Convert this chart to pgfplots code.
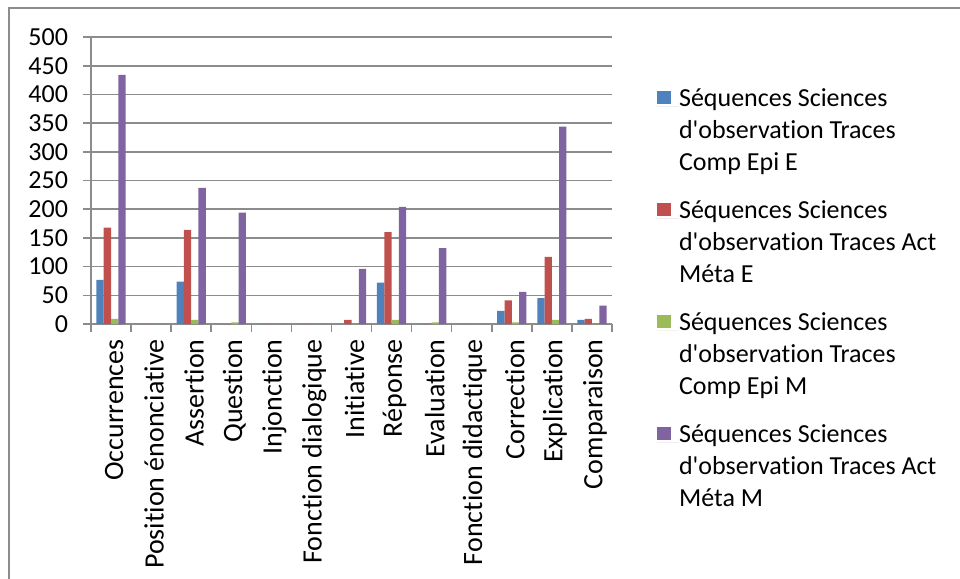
\documentclass[border=0pt]{standalone}
\usepackage{pgfplots}
\pgfplotsset{compat=1.18}
\usepackage{pgfplotstable}
\usepackage{fontspec}
\setmainfont{Carlito}[Ligatures=NoCommon]
\definecolor{cA}{HTML}{4F81BD}
\definecolor{cB}{HTML}{C0504D}
\definecolor{cC}{HTML}{9BBB59}
\definecolor{cD}{HTML}{8064A2}
\definecolor{gridc}{HTML}{8C8C8C}
\pgfplotstableread{
x EA EB EC ED
0 77 168 9 434
1 0 0 0 0
2 74 164 7 237
3 0 0 3 194
4 0 0 0 0
5 0 0 0 0
6 0 7 0 96
7 72 160 7 204
8 0 0 3 132
9 0 0 0 0
10 23 41 3 56
11 45 117 7 344
12 7 9 0 32
}\datatable
\newcommand{\legtxt}[3]{\begin{tabular}[t]{@{}l@{}}#1\\#2\\#3\end{tabular}}
\begin{document}
\begin{tikzpicture}
\path[use as bounding box] (0pt,0pt) rectangle (480pt,-289.5pt);
\draw[gridc, line width=1pt] (4.5pt,-295pt) -- (4.5pt,-4pt) -- (485pt,-4pt);
\begin{axis}[
  at={(45.5pt,-162pt)}, anchor=south west,
  scale only axis, width=260.5pt, height=143.5pt,
  ybar=0pt, bar width=3.65pt,
  xmin=-0.5, xmax=12.5, ymin=0, ymax=500,
  axis x line*=bottom, axis y line*=left,
  axis line style={gridc, line width=0.8pt},
  ytick={0,50,...,500},
  ymajorgrids, grid style={gridc, line width=0.8pt},
  tick align=outside,
  major tick length=4pt,
  xtick={0,...,12},
  xticklabels={Occurrences,Position énonciative,Assertion,Question,Injonction,Fonction dialogique,Initiative,Réponse,Evaluation,Fonction didactique,Correction,Explication,Comparaison},
  x tick style={draw=none},
  minor xtick={-0.5,0.5,...,12.5},
  minor tick length=4pt,
  minor x tick style={draw=gridc, line width=0.8pt},
  y tick style={gridc, line width=0.8pt},
  /pgf/number format/assume math mode=true,
  tick label style={font=\fontsize{13}{16}\selectfont},
  yticklabel style={xshift=-4pt},
  x tick label style={font=\fontsize{14}{17}\selectfont, rotate=90, anchor=east, inner sep=0pt, xshift=-3.5pt, yshift=-1.5pt},
  legend image code/.code={\fill[#1] (0pt,1pt) rectangle (7pt,7.5pt); \path (0pt,0pt) -- (11pt,0pt);},
  legend style={at={(1.0865,0.8376)}, anchor=north west, draw=none, fill=none,
    inner sep=0pt, outer sep=0pt, row sep=8pt, column sep=0pt,
    font=\fontsize{13}{16}\selectfont,
    nodes={inner sep=0pt, text depth=36.8pt},
    cells={anchor=base west}},
]
\addplot[fill=cA, draw=none] table[x=x, y=EA] {\datatable};
\addplot[fill=cB, draw=none] table[x=x, y=EB] {\datatable};
\addplot[fill=cC, draw=none] table[x=x, y=EC] {\datatable};
\addplot[fill=cD, draw=none] table[x=x, y=ED] {\datatable};
\addlegendentry{\legtxt{Séquences Sciences}{d\textquotesingle observation Traces}{Comp Epi E}}
\addlegendentry{\legtxt{Séquences Sciences}{d\textquotesingle observation Traces Act}{Méta E}}
\addlegendentry{\legtxt{Séquences Sciences}{d\textquotesingle observation Traces}{Comp Epi M}}
\addlegendentry{\legtxt{Séquences Sciences}{d\textquotesingle observation Traces Act}{Méta M}}
\end{axis}
\end{tikzpicture}
\end{document}
